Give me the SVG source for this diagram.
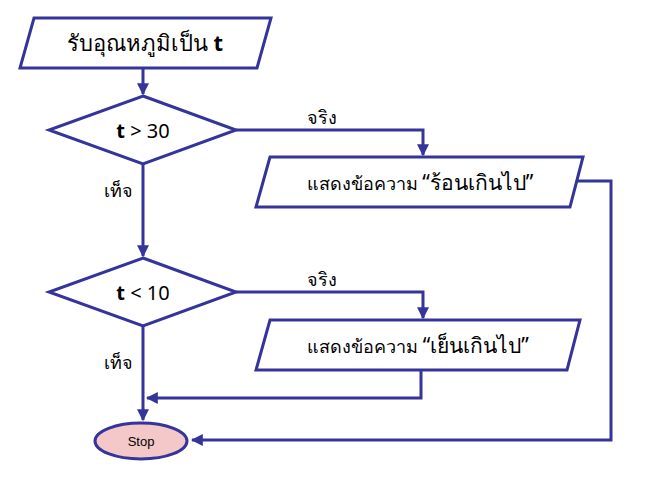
<svg xmlns="http://www.w3.org/2000/svg" width="650" height="482" viewBox="0 0 650 482">
<style>
.s{fill:#fff;stroke:#34349a;stroke-width:3}
.c{fill:none;stroke:#34349a;stroke-width:3}
text{font-family:"Noto Sans","DejaVu Sans",sans-serif;fill:#000}
</style>
<defs><marker id="a" viewBox="0 0 10 10" refX="9" refY="5" markerWidth="4" markerHeight="4" orient="auto"><path d="M0,0L10,5L0,10z" fill="#34349a"/></marker></defs>
<rect width="650" height="482" fill="#fff"/>
<g id="connectors">
<path class="c" d="M143,68V94" marker-end="url(#a)"/>
<path class="c" d="M236,130H423V155" marker-end="url(#a)"/>
<path class="c" d="M143,164V256" marker-end="url(#a)"/>
<path class="c" d="M236,292H423V318" marker-end="url(#a)"/>
<path class="c" d="M577,181H611V440H192" marker-end="url(#a)"/>
<path class="c" d="M421,370V398H147" marker-end="url(#a)"/>
<path class="c" d="M143,326V420" marker-end="url(#a)"/>
<text x="322" y="124" font-size="18" text-anchor="middle">จริง</text>
<text x="322" y="286" font-size="18" text-anchor="middle">จริง</text>
<text x="118" y="197" font-size="18" text-anchor="middle">เท็จ</text>
<text x="118" y="369" font-size="18" text-anchor="middle">เท็จ</text>
</g>
<g id="input"><path class="s" d="M34,18H271L257,68H20z"/><text x="145" y="51" font-size="22" text-anchor="middle">รับอุณหภูมิเป็น <tspan font-weight="bold">t</tspan></text></g>
<g id="d1"><path class="s" d="M143,96L236,130L143,164L49,130z"/><text x="143" y="138" font-size="20" text-anchor="middle"><tspan font-weight="bold">t</tspan> &gt; 30</text></g>
<g id="o1"><path class="s" d="M270,157H583L570,207H256z"/><text x="420" y="190" font-size="18" text-anchor="middle">แสดงข้อความ <tspan font-size="21">“ร้อนเกินไป”</tspan></text></g>
<g id="d2"><path class="s" d="M143,258L236,292L143,326L49,292z"/><text x="143" y="300" font-size="20" text-anchor="middle"><tspan font-weight="bold">t</tspan> &lt; 10</text></g>
<g id="o2"><path class="s" d="M270,320H580L567,370H256z"/><text x="418" y="353" font-size="18" text-anchor="middle">แสดงข้อความ <tspan font-size="21">“เย็นเกินไป”</tspan></text></g>
<g id="stop"><ellipse cx="141" cy="441" rx="46" ry="18" fill="#f4c7c8" stroke="#34349a" stroke-width="3"/><text x="141" y="446" font-size="13" text-anchor="middle" style="font-family:'Liberation Sans',sans-serif">Stop</text></g>
</svg>
